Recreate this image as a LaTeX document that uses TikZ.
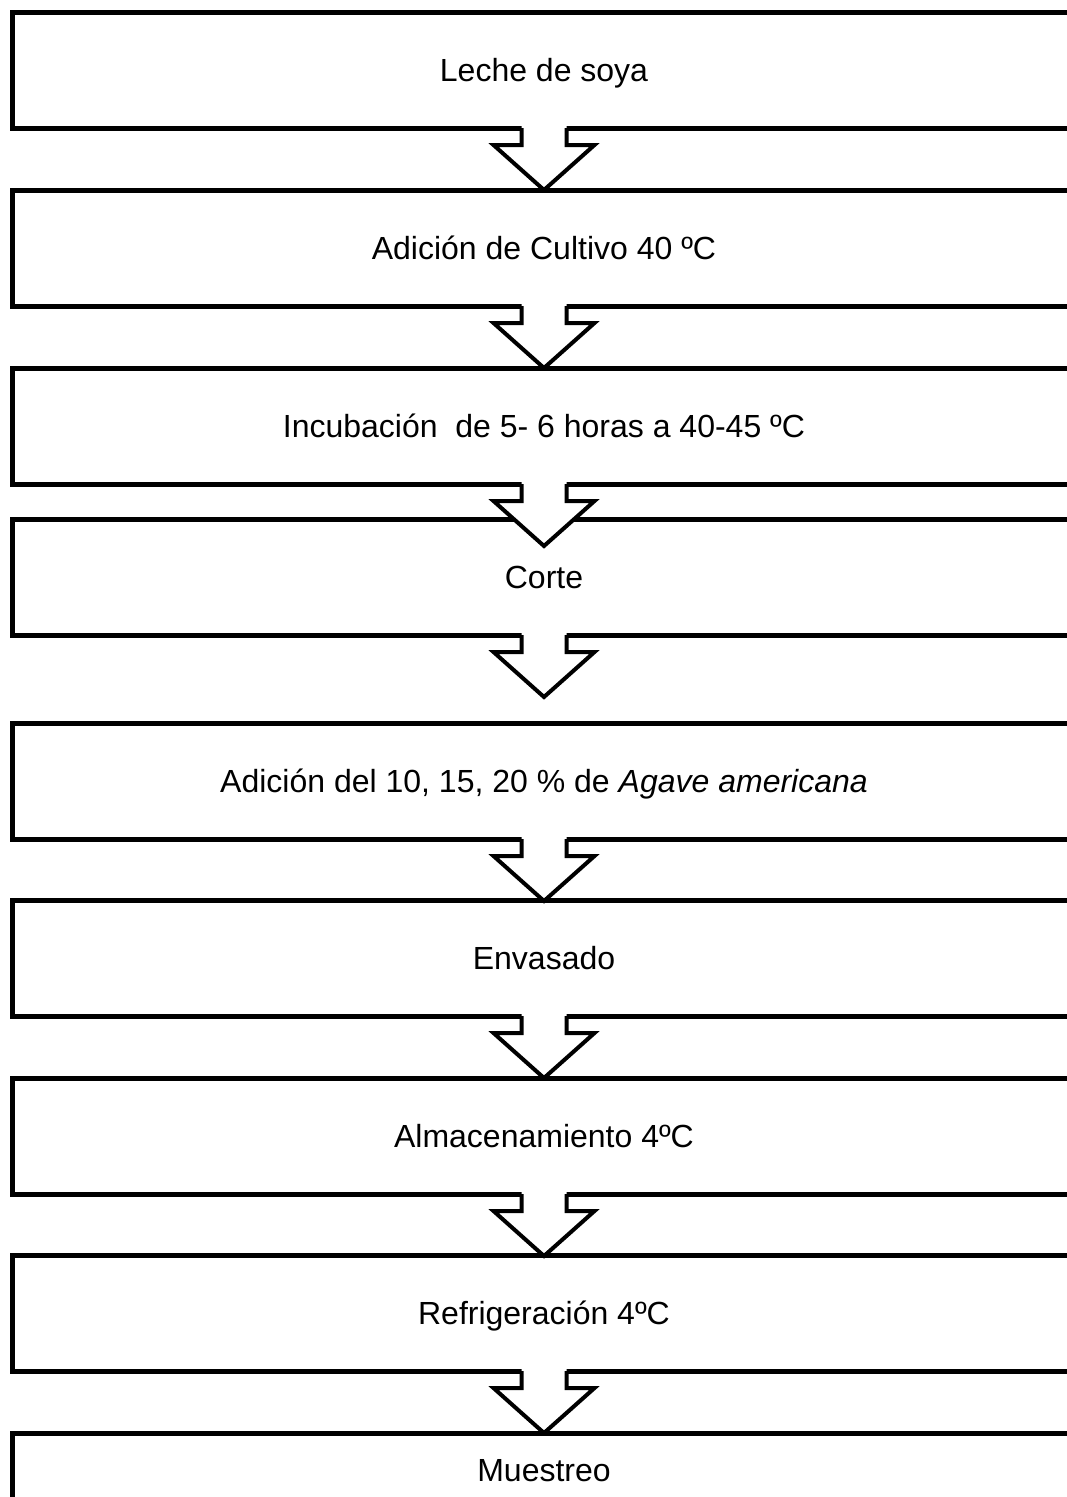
\documentclass[tikz,border=0pt]{standalone}
\usepackage{fontspec}
\setmainfont{Liberation Sans}

% flecha de bloque bajo la caja #1
\newcommand{\flechabajo}[1]{%
  \begin{scope}[shift={(#1.south)}]
    \fill[white] (-22.5,-3) -- (-22.5,17) -- (-50.5,17) -- (0,62) -- (50.5,17) -- (22.5,17) -- (22.5,-3) -- cycle;
    \draw[bordeflecha] (-22.5,0) -- (-22.5,17) -- (-50.5,17) -- (0,62) -- (50.5,17) -- (22.5,17) -- (22.5,0);
  \end{scope}}

\begin{document}
\begin{tikzpicture}[x=1pt,y=-1pt]
\tikzset{caja/.style={draw, line width=5pt, minimum width=1064pt, minimum height=116pt, inner sep=0pt, outer sep=0pt, text height=23pt, text depth=0pt, font=\fontsize{32}{38}\selectfont}}
\tikzset{bordeflecha/.style={draw, line width=4pt}}
\useasboundingbox (0,0) rectangle (1067,1497);
\clip (0,0) rectangle (1067,1497);
\node[caja] (P1) at (544,70) {Leche de soya};
\node[caja] (P2) at (544,248) {Adición de Cultivo 40 ºC};
\node[caja] (P3) at (544,426) {Incubación~ de 5- 6 horas a 40-45 ºC};
\node[caja] (P4) at (544,577) {Corte};
\node[caja] (P5) at (544,781) {Adición del 10, 15, 20 \% de \textit{Agave americana}};
\node[caja] (P6) at (544,958) {Envasado};
\node[caja] (P7) at (544,1136) {Almacenamiento 4ºC};
\node[caja] (P8) at (544,1313) {Refrigeración 4ºC};
\node[caja, minimum height=74pt] (P9) at (544,1470) {Muestreo};
\foreach \i in {1,...,8}
  \flechabajo{P\i};
\end{tikzpicture}
\end{document}
